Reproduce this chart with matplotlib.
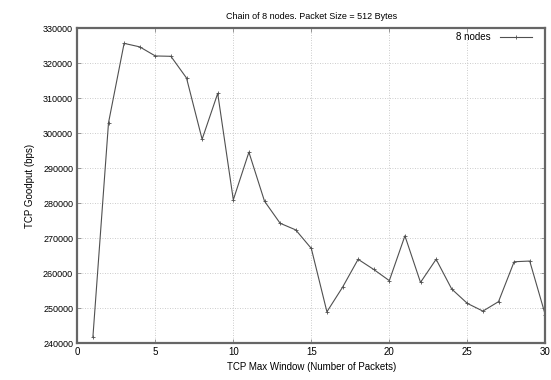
import matplotlib
matplotlib.use("Agg")
import matplotlib.pyplot as plt

window = list(range(1, 31))
goodput = [241800, 303000, 325700, 324700, 322100, 322000, 315800, 298300, 311400, 281000,
           294600, 280600, 274300, 272400, 267100, 249000, 256000, 264000, 261100, 257900,
           270700, 257400, 264000, 255500, 251400, 249200, 251900, 263300, 263500, 248100]
series_label = "8 nodes"
title = "Chain of 8 nodes. Packet Size = 512 Bytes"
xlabel = "TCP Max Window (Number of Packets)"
ylabel = "TCP Goodput (bps)"
xticks = [0, 5, 10, 15, 20, 25, 30]
yticks = list(range(240000, 330001, 10000))

plt.rcParams['font.family'] = ['Liberation Sans', 'DejaVu Sans']
fig = plt.figure(figsize=(5.51, 3.80), dpi=100)
ax = fig.add_axes([0.1403, 0.0966, 0.8494, 0.8289])
ax.plot(window, goodput, color='#505050', lw=0.8, marker='+', ms=3.2, mew=0.6, label=series_label)
ax.set_xlim(0, 30)
ax.set_ylim(240000, 330000)
ax.set_xticks(xticks)
ax.set_yticks(yticks)
ax.set_xticklabels([str(t) for t in xticks], fontsize=7)
ax.set_yticklabels([str(t) for t in yticks], fontsize=6.5)
ax.tick_params(direction='in', length=3, top=True, right=True, color='#888888', width=0.6, pad=3)
ax.grid(True, color='#bbbbbb', linestyle=(0, (1, 2)), lw=0.6)
for s in ax.spines.values():
    s.set_linewidth(1.6)
    s.set_color('#666666')
ax.set_title(title, fontsize=6.5, pad=7)
ax.set_xlabel(xlabel, fontsize=7, labelpad=3)
ax.set_ylabel(ylabel, fontsize=7, labelpad=6)
leg = ax.legend(loc='upper right', frameon=False, fontsize=7, markerfirst=False,
                handlelength=3.3, borderaxespad=0, borderpad=0, handletextpad=1.0,
                bbox_to_anchor=(1 - 13 / 468, 1 - 4 / 315))
fig.savefig("out.png", dpi=100)
